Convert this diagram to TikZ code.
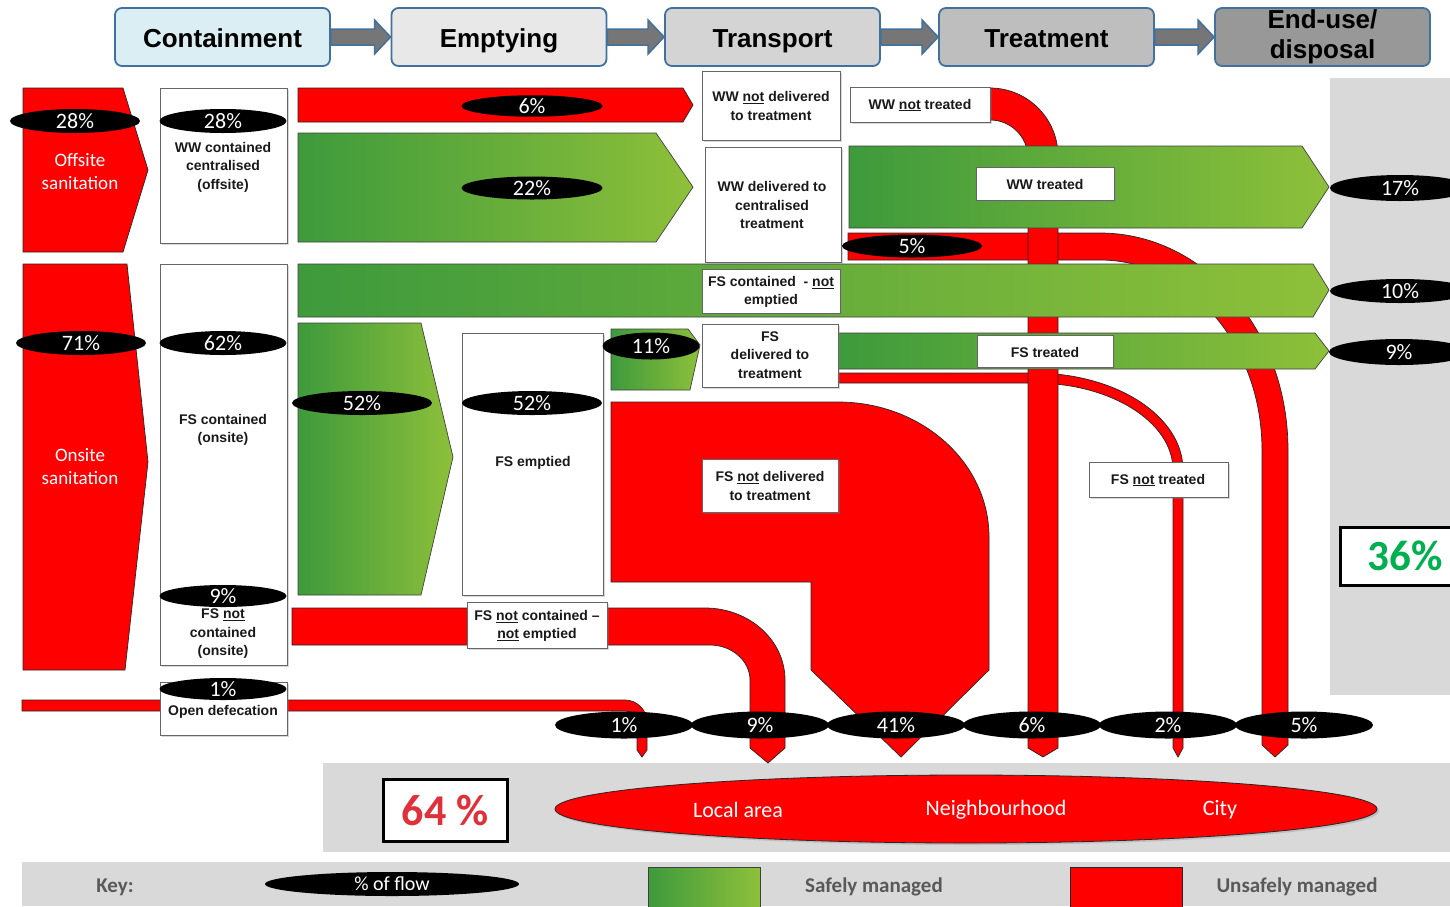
\documentclass[tikz,border=0pt]{standalone}
\usepackage{fontspec}
\setmainfont{Liberation Sans}
\newfontfamily\calfont{Carlito}
\usetikzlibrary{shapes.geometric,shadows,calc}
\definecolor{sred}{RGB}{255,0,0}
\definecolor{gdark}{RGB}{62,154,60}
\definecolor{glight}{RGB}{142,192,58}
\definecolor{panel}{RGB}{217,217,217}
\definecolor{hblue}{RGB}{65,113,156}
\definecolor{hcA}{RGB}{219,238,244}
\definecolor{hcB}{RGB}{232,232,232}
\definecolor{hcC}{RGB}{212,212,212}
\definecolor{hcD}{RGB}{190,190,190}
\definecolor{hcE}{RGB}{152,152,152}
\definecolor{harrowc}{RGB}{118,118,118}
\definecolor{keytext}{RGB}{89,89,89}
\definecolor{pctred}{RGB}{224,48,58}
\definecolor{pctgreen}{RGB}{0,176,80}
\newcommand\myul[1]{\underline{#1}}
\pgfdeclarelayer{bg}
\pgfsetlayers{bg,main}
\tikzset{
 redf/.style={fill=sred, draw=black!85, line width=0.7pt},
 greenf/.style={left color=gdark, right color=glight, draw=black!75, line width=0.7pt},
 hbox/.style={draw=hblue, line width=1.8pt, rounded corners=7pt, minimum width=215pt, minimum height=58pt, font=\bfseries\fontsize{26}{30}\selectfont, align=center, inner sep=0pt},
 hone/.style={hbox, text height=22pt, text depth=2pt},
 harrow/.style={fill=harrowc, draw=hblue, line width=1.5pt},
 lbox/.style={draw=black!60, line width=0.6pt, fill=white, drop shadow={opacity=0.3, shadow xshift=2pt, shadow yshift=-2pt}, inner sep=0pt},
 ltxt/.style={font=\bfseries\fontsize{14}{18.5}\selectfont, align=center, inner sep=0pt, text=black!90},
 pct/.style={ellipse, fill=black, text=white, font=\calfont\fontsize{22}{22}\selectfont, inner sep=0pt, minimum width=130pt, minimum height=24pt},
 panelf/.style={fill=panel, draw=none},
 wtxt/.style={text=white, font=\calfont\fontsize{19}{23}\selectfont, align=center, inner sep=0pt},
 ktxt/.style={text=keytext, font=\calfont\bfseries\fontsize{21}{21}\selectfont, inner sep=0pt},
}
\begin{document}
\begin{tikzpicture}[x=1pt,y=-1pt]
\useasboundingbox (0,0) rectangle (1450,906);
\begin{pgfonlayer}{bg}
\fill[white] (0,0) rectangle (1450,906);
\end{pgfonlayer}
% panels
\path[panelf] (1330,78) rectangle (1450,695);
\path[panelf] (323,763) rectangle (1450,852);
\path[panelf] (22,862) rectangle (1450,906);

% header
\node[hone, fill=hcA] (h1) at (222.5,37) {Containment};
\node[hone, fill=hcB] (h2) at (499,37) {Emptying};
\node[hone, fill=hcC] (h3) at (772.5,37) {Transport};
\node[hone, fill=hcD] (h4) at (1046.5,37) {Treatment};
\node[hbox, fill=hcE] (h5) at (1322.5,37) {End-use/\\disposal};
\begin{pgfonlayer}{bg}
\foreach \a/\b in {h1/h2,h2/h3,h3/h4,h4/h5}{
 \draw[harrow] ($(\a.east)+(0,-8)$) -- ($(\b.west)+(-16,-8)$) -- ($(\b.west)+(-16,-17)$) -- (\b.west) -- ($(\b.west)+(-16,17)$) -- ($(\b.west)+(-16,8)$) -- ($(\a.east)+(0,8)$) -- cycle;}
\end{pgfonlayer}

% left red blocks
\draw[redf] (23,88) -- (123,88) -- (148,170) -- (123,252) -- (23,252) -- cycle;
\draw[redf] (23,264) -- (127,264) -- (148,462) -- (125,670) -- (23,670) -- cycle;
\node[wtxt] (offt) at (80,171) {Offsite\\sanitation};
\node[wtxt] (onst) at (80,467) {Onsite\\sanitation};

% red flows at right (under green bands)
\draw[redf] (848,233) -- (1100,233) .. controls (1204,233) and (1288,330) .. (1288,450) -- (1288,745) -- (1275,757) -- (1262,745) -- (1262,450) .. controls (1262,345) and (1189,260) .. (1100,260) -- (848,260) -- cycle;
\draw[redf] (835,373) -- (1034,373) .. controls (1116,373) and (1183,416) .. (1183,470) -- (1183,748) -- (1178,757) -- (1173,748) -- (1173,470) .. controls (1173,422) and (1111,383) .. (1034,383) -- (835,383) -- cycle;
\draw[redf] (980,88) -- (990,88) .. controls (1027.5,88) and (1058,118.5) .. (1058,156) -- (1058,748) -- (1043,757) -- (1028,748) -- (1028,158) .. controls (1028,137) and (1011,120) .. (990,120) -- (980,120) -- cycle;

% other red flows
\draw[redf] (298,88) -- (683,88) -- (693,105) -- (683,122) -- (298,122) -- cycle;
\draw[redf] (611,402) -- (838,402) .. controls (921,402) and (989,462) .. (989,537) -- (989,670) -- (901,757) -- (811,670) -- (811,582) -- (611,582) -- cycle;
\draw[redf] (292,608) -- (705,608) .. controls (749,608) and (785,640) .. (785,680) -- (785,748) -- (768,763) -- (750,748) -- (750,680) .. controls (750,661) and (732,645) .. (710,645) -- (292,645) -- cycle;
\draw[redf] (22,700) -- (625,700) .. controls (637,700) and (647,710) .. (647,722) -- (647,750) -- (642,757) -- (637,750) -- (637,722) .. controls (637,715) and (632,711) .. (625,711) -- (22,711) -- cycle;

% green flows
\draw[greenf] (298,133) -- (656,133) -- (693,187) -- (656,242) -- (298,242) -- cycle;
\draw[greenf] (298,264) -- (1313,264) -- (1329,290) -- (1313,317) -- (298,317) -- cycle;
\draw[greenf] (298,323) -- (421,323) -- (453,457) -- (421,595) -- (298,595) -- cycle;
\draw[greenf] (611,329) -- (688,329) -- (700,345) -- (690,390) -- (611,390) -- cycle;
\draw[greenf] (849,146) -- (1302,146) -- (1329,187) -- (1302,228) -- (849,228) -- cycle;
\draw[greenf] (838,333) -- (1315,333) -- (1329,351) -- (1315,369) -- (838,369) -- cycle;

% label boxes
\node[lbox, minimum width=127pt, minimum height=155pt] (wwc) at (223.5,165.5) {};
\node[lbox, minimum width=127pt, minimum height=401pt] (fsc) at (223.5,464.5) {};
\node[lbox, minimum width=127pt, minimum height=53pt] (od) at (223.5,708.5) {};
\node[lbox, minimum width=141pt, minimum height=262pt] (fse) at (532.5,464) {};
\node[lbox, minimum width=138pt, minimum height=69pt] (wwnd) at (771,105.5) {};
\node[lbox, minimum width=136pt, minimum height=115pt] (wwd) at (773,204.5) {};
\node[lbox, minimum width=138pt, minimum height=44pt] (fscne) at (771,291) {};
\node[lbox, minimum width=136pt, minimum height=63pt] (fsd) at (770,355.5) {};
\node[lbox, minimum width=136pt, minimum height=53pt] (fsnd) at (770,485.5) {};
\node[lbox, minimum width=140pt, minimum height=46pt] (fsnce) at (537,625) {};
\node[lbox, minimum width=140pt, minimum height=35pt] (wwnt) at (920,104.5) {};
\node[lbox, minimum width=138pt, minimum height=33pt] (wwt) at (1045,183.5) {};
\node[lbox, minimum width=136pt, minimum height=32pt] (fst) at (1045,351) {};
\node[lbox, minimum width=139pt, minimum height=35pt] (fsnt) at (1158.5,479.5) {};

% label texts
\node[ltxt] (twwc) at (223,167) {WW contained\\centralised\\(offsite)};
\node[ltxt] (tfsc) at (223,430) {FS contained\\(onsite)};
\node[ltxt] (tfsnc) at (223,634) {FS \myul{not}\\contained\\(onsite)};
\node[ltxt] (tod) at (223,712) {Open defecation};
\node[ltxt] (tfse) at (533,463) {FS emptied};
\node[ltxt] (twwnd) at (771,106) {WW \myul{not} delivered\\to treatment};
\node[ltxt] (twwd) at (772,205) {WW delivered to\\centralised\\treatment};
\node[ltxt] (tfscne) at (771,292) {FS contained\ \ - \myul{not}\\emptied};
\node[ltxt] (tfsd) at (770,355) {FS\\delivered to\\treatment};
\node[ltxt] (tfsnd) at (770,486) {FS \myul{not} delivered\\to treatment};
\node[ltxt] (tfsnce) at (537,626) {FS \myul{not} contained --\\\myul{not} emptied};
\node[ltxt] (twwnt) at (920,105) {WW \myul{not} treated};
\node[ltxt] (twwt) at (1045,184) {WW treated};
\node[ltxt] (tfst) at (1045,352) {FS treated};
\node[ltxt] (tfsnt) at (1158,480) {FS \myul{not} treated};

% percentage ellipses
\node[pct, minimum width=130pt] (p1) at (75,121) {28\%};
\node[pct, minimum width=127pt] (p2) at (223,121) {28\%};
\node[pct, minimum width=141pt, minimum height=20pt] (p3) at (532,106) {6\%};
\node[pct, minimum width=141pt, minimum height=23pt] (p4) at (532,188) {22\%};
\node[pct, minimum width=130pt] (p5) at (81,343) {71\%};
\node[pct, minimum width=127pt] (p6) at (223,343) {62\%};
\node[pct, minimum width=140pt] (p7) at (362,403) {52\%};
\node[pct, minimum width=140pt] (p8) at (532,403) {52\%};
\node[pct, minimum width=127pt, minimum height=22pt] (p9) at (223,596) {9\%};
\node[pct, minimum width=127pt, minimum height=22pt] (p10) at (223,689) {1\%};
\node[pct, minimum width=97pt, minimum height=27pt] (p11) at (651,346) {11\%};
\node[pct, minimum width=140pt, minimum height=23pt] (p12) at (912,246) {5\%};
\node[pct, minimum width=140pt, minimum height=26pt] (p13) at (1400,188) {17\%};
\node[pct, minimum width=140pt, minimum height=24pt] (p14) at (1400,291) {10\%};
\node[pct, minimum width=140pt, minimum height=26pt] (p15) at (1399,352) {9\%};
\foreach \x/\t/\n in {624/1/b1,760/9/b2,896/41/b3,1032/6/b4,1168/2/b5,1304/5/b6}{
 \node[pct, minimum width=138pt, minimum height=27pt] (\n) at (\x,725) {\t\%};}

% totals
\node[draw=black, line width=3pt, fill=white, minimum width=130pt, minimum height=58pt, text=pctgreen, font=\calfont\bfseries\fontsize{43}{43}\selectfont, inner sep=0pt] (tot36) at (1405,556) {36\%};
\node[draw=black, line width=3pt, fill=white, minimum width=124pt, minimum height=62pt, text=pctred, font=\calfont\bfseries\fontsize{44}{44}\selectfont, inner sep=0pt] (tot64) at (445,810) {64 \%};

% destination ellipse
\node[ellipse, fill=sred, draw=black!85, line width=0.8pt, minimum width=822pt, minimum height=68pt, drop shadow={opacity=0.3, shadow xshift=2pt, shadow yshift=-2pt}] (dest) at (966,809) {};
\node[wtxt, font=\calfont\fontsize{22}{22}\selectfont] (dl) at (738,810) {Local area};
\node[wtxt, font=\calfont\fontsize{22}{22}\selectfont] (dn) at (996,810) {Neighbourhood};
\node[wtxt, font=\calfont\fontsize{22}{22}\selectfont] (dc) at (1220,810) {City};

% key
\node[ktxt] (kk) at (115,887) {Key:};
\node[pct, minimum width=254pt, minimum height=24pt, font=\calfont\fontsize{20}{20}\selectfont] (kp) at (392,884) {\% of flow};
\draw[greenf] (648,867) rectangle (760,912);
\node[ktxt] (ks) at (874,887) {Safely managed};
\draw[redf] (1070,867) rectangle (1182,912);
\node[ktxt] (ku) at (1297,887) {Unsafely managed};
\end{tikzpicture}
\end{document}
